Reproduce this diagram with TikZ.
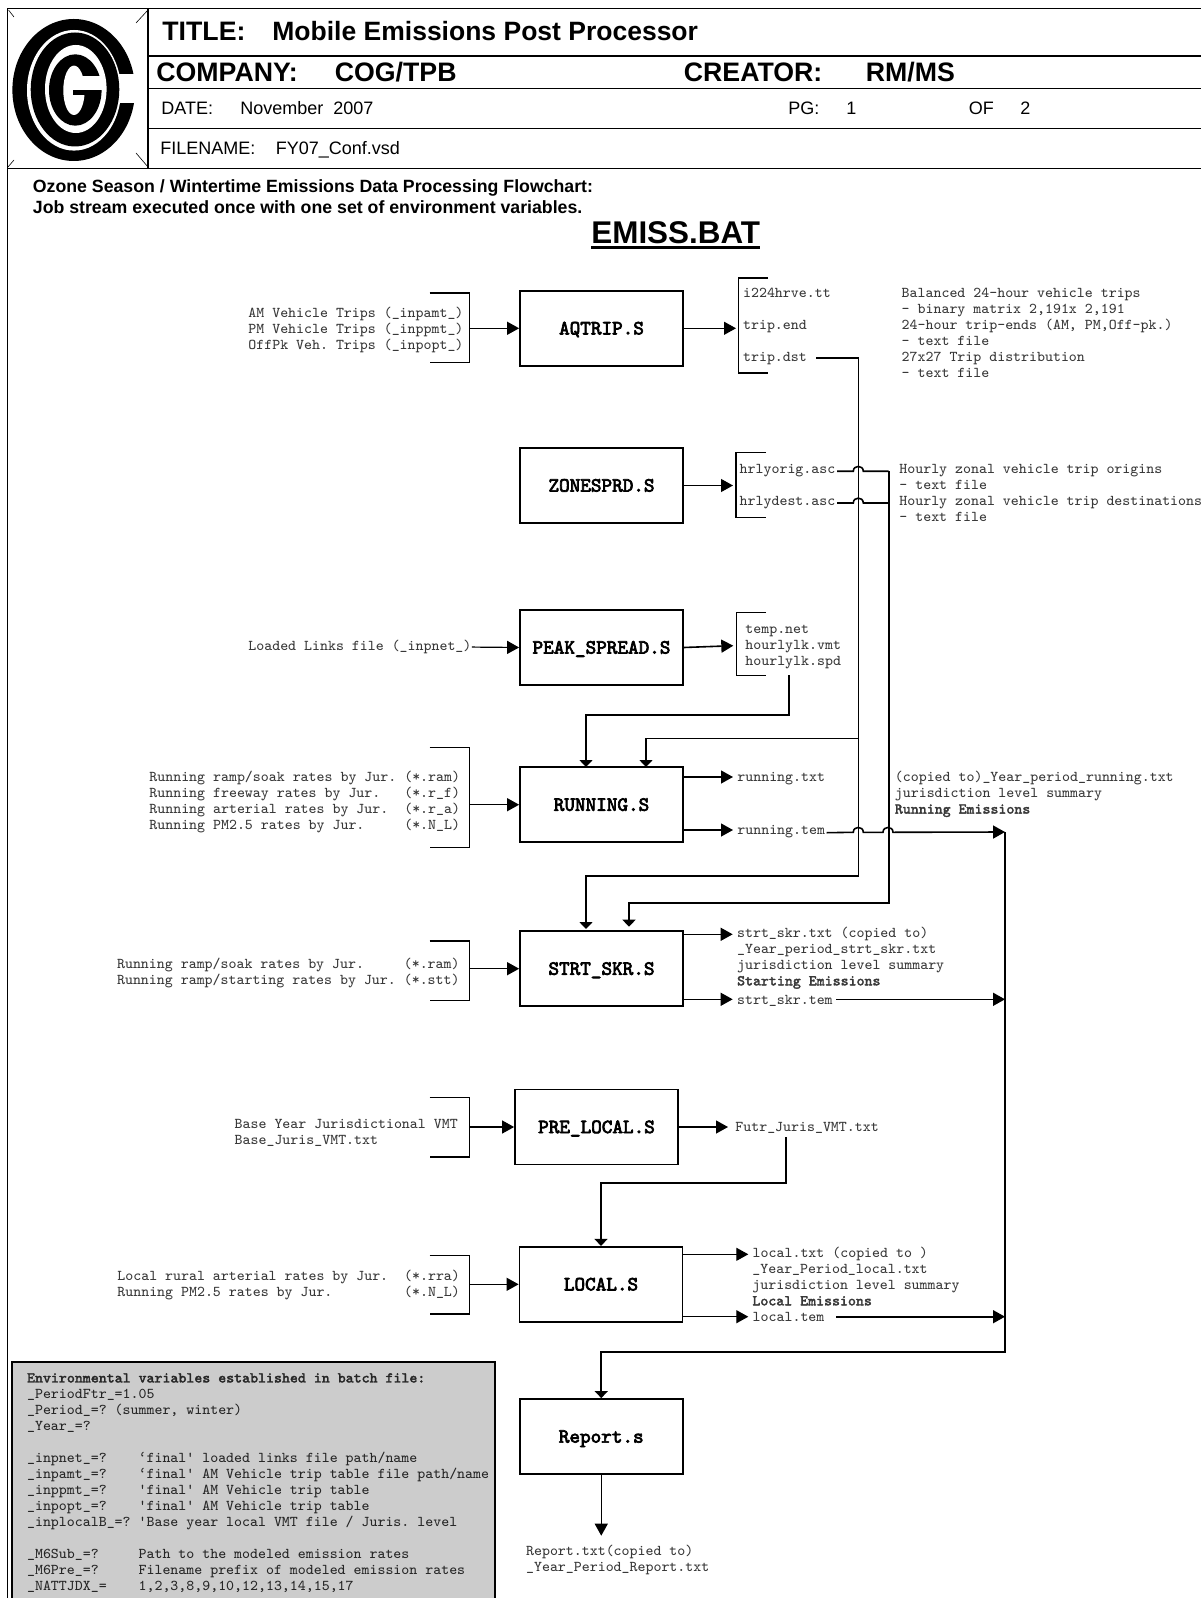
\documentclass[tikz,border=0pt]{standalone}
\usepackage{fontspec}
\setsansfont{Liberation Sans}
\setmonofont{Latin Modern Mono}[BoldFont={Latin Modern Mono},BoldFeatures={FakeBold=2}]
\newfontfamily\boxfont{Latin Modern Mono}[FakeBold=3.5]
\usetikzlibrary{arrows.meta}
\tikzset{
  procbox/.style={draw,line width=0.9pt,minimum width=81.5pt,minimum height=37.5pt,inner sep=0pt,
    text height=8.5pt,text depth=2.4pt,
    font=\boxfont\fontsize{10.1}{12}\selectfont},
  txt/.style={inner sep=0pt,align=left,anchor=north west,yshift=-1pt,text=black!78,
    font=\ttfamily\fontsize{7.5}{8}\selectfont\frenchspacing},
  outfile/.style={inner sep=0pt,anchor=west,inner xsep=2pt,text=black!78,
    text height=6.8pt,text depth=2pt,
    font=\ttfamily\fontsize{7.5}{8}\selectfont\frenchspacing},
  headbig/.style={inner sep=0pt,anchor=base west,font=\sffamily\bfseries\fontsize{13.35}{16}\selectfont},
  headsmall/.style={inner sep=0pt,anchor=base west,font=\sffamily\fontsize{9}{11}\selectfont},
  subhead/.style={inner sep=0pt,anchor=base west,font=\sffamily\bfseries\fontsize{8.86}{11}\selectfont},
  frameline/.style={line width=0.7pt},
  bracket/.style={line width=0.6pt},
  thinarrow/.style={line width=0.6pt,-{Triangle[length=6pt,width=6.5pt]}},
  flow/.style={line width=0.8pt},
  flowarrow/.style={line width=0.8pt,-{Triangle[length=6pt,width=6.5pt]}},
  flowdown/.style={line width=0.8pt,-{Triangle[length=3.5pt,width=6.5pt]}}
}

\begin{document}
\begin{tikzpicture}[x=0.5pt,y=-0.5pt]
    \useasboundingbox (0,0) rectangle (1201,1598);

    % title block
    \draw[frameline] (7.5,1598) -- (7.5,8.5) -- (1201,8.5);
    \draw[frameline] (7.5,168.3) -- (1201,168.3);
    \draw[frameline] (148,8.5) -- (148,168.3);
    \draw[frameline] (148,56) -- (1201,56);
    \draw[frameline] (148,88.3) -- (1201,88.3);
    \draw[frameline] (148,128.3) -- (1201,128.3);

    % corner ticks of the logo
    \draw[line width=0.3pt] (8.5,10) -- (14,17);
    \draw[line width=0.3pt] (148,10) -- (136,23);
    \draw[line width=0.3pt] (8,167) -- (14,160);
    \draw[line width=0.3pt] (148,167) -- (136,153);

    % logo
    \fill[black] (73.7,90) ellipse [x radius=30.65pt,y radius=35.5pt];
    \fill[white] (100,74) rectangle (140,102.7);
    \fill[white] (74,90.3) ellipse [x radius=23.5pt,y radius=30.15pt];
    \fill[black] (75,89.5) ellipse [x radius=22.15pt,y radius=28.5pt];
    \fill[white] (75.8,89) ellipse [x radius=15.4pt,y radius=22pt];
    \fill[black] (75.3,90) ellipse [x radius=13.15pt,y radius=17.85pt];
    \fill[white] (74,90.3) ellipse [x radius=5.35pt,y radius=12.35pt];
    \fill[white] (78,76) rectangle (103,90);
    \fill[black] (73.3,90) rectangle (100,95);

    % header texts
    \node[headbig] (titlelab) at (162,40.7) {TITLE:};
    \node[headbig,font=\sffamily\bfseries\fontsize{13.25}{16}\selectfont] (titleval) at (272,40.7) {Mobile Emissions Post Processor};
    \node[headbig] (companylab) at (156,81.5) {COMPANY:};
    \node[headbig] (companyval) at (334.5,81.5) {COG/TPB};
    \node[headbig] (creatorlab) at (683.5,81.5) {CREATOR:};
    \node[headbig] (creatorval) at (865.5,81.5) {RM/MS};
    \node[headsmall] (datelab) at (161,114.3) {DATE:};
    \node[headsmall] (dateval) at (240,114.3) {November~~2007};
    \node[headsmall] (pglab) at (788,114.3) {PG:};
    \node[headsmall] (pgval) at (846,114.3) {1};
    \node[headsmall] (oflab) at (968.5,114.3) {OF};
    \node[headsmall] (ofval) at (1020,114.3) {2};
    \node[headsmall] (filelab) at (160,154.5) {FILENAME:};
    \node[headsmall] (fileval) at (275.5,154.5) {FY07\_Conf.vsd};
    \node[subhead] (subone) at (32.5,193) {Ozone Season / Wintertime Emissions Data Processing Flowchart:};
    \node[subhead] (subtwo) at (32.5,213.8) {Job stream executed once with one set of environment variables.};
    \node[inner sep=0pt,anchor=base west,font=\sffamily\bfseries\fontsize{15.7}{18}\selectfont] (emiss) at (591,243.5) {EMISS.BAT};
    \draw[line width=1.5pt] ([yshift=-2.2pt]emiss.base west) -- ([yshift=-2.2pt]emiss.base east);

    % processing boxes
    \node[procbox] (aqtrip) at (601.5,328.3) {AQTRIP.S};
    \node[procbox] (zonesprd) at (601.5,485.5) {ZONESPRD.S};
    \node[procbox] (peakspread) at (601.5,647.5) {PEAK\_SPREAD.S};
    \node[procbox] (runningbox) at (601.5,804.7) {RUNNING.S};
    \node[procbox] (strtskr) at (601.5,968.7) {STRT\_SKR.S};
    \node[procbox] (prelocal) at (596.5,1127) {PRE\_LOCAL.S};
    \node[procbox] (localbox) at (601,1284.3) {LOCAL.S};
    \node[procbox] (reportbox) at (601.25,1436.5) {Report.s};

    % input lists
    \node[txt] (aqinput) at (248,305) {AM Vehicle Trips (\_inpamt\_)\\PM Vehicle Trips (\_inppmt\_)\\OffPk Veh. Trips (\_inpopt\_)};
    \node[txt] (loadedlinks) at (248,637.8) {Loaded Links file (\_inpnet\_)};
    \node[txt] (runinput) at (149,768.8) {Running ramp/soak rates by Jur. (*.ram)\\Running freeway rates by Jur.~~~(*.r\_f)\\Running arterial rates by Jur.~~(*.r\_a)\\Running PM2.5 rates by Jur.~~~~~(*.N\_L)};
    \node[txt] (strtinput) at (116.7,956) {Running ramp/soak rates by Jur.~~~~~(*.ram)\\Running ramp/starting rates by Jur. (*.stt)};
    \node[txt] (preinput) at (234.3,1117) {Base Year Jurisdictional VMT\\Base\_Juris\_VMT.txt};
    \node[txt] (localinput) at (117,1268) {Local rural arterial rates by Jur.~~(*.rra)\\Running PM2.5 rates by Jur.~~~~~~~~~(*.N\_L)};

    % input brackets
    \draw[bracket] (429.7,293) -- (469.3,293) -- (469.3,362.7) -- (429.7,362.7);
    \draw[bracket] (429.7,747.3) -- (469.3,747.3) -- (469.3,847.3) -- (429.7,847.3);
    \draw[bracket] (429.7,941) -- (469.3,941) -- (469.3,1000.7) -- (429.7,1000.7);
    \draw[bracket] (429.7,1097.3) -- (469.3,1097.3) -- (469.3,1157) -- (429.7,1157);
    \draw[bracket] (429.7,1255.7) -- (469.3,1255.7) -- (469.3,1314) -- (429.7,1314);

    % input arrows
    \coordinate (aqin) at (469.3,328.3);
    \coordinate (runin) at (469.3,804.7);
    \coordinate (strtin) at (469.3,968.7);
    \coordinate (prein) at (469.3,1127);
    \coordinate (localin) at (469.3,1284.3);
    \draw[thinarrow] (aqin) -- (aqtrip.west);
    \draw[thinarrow] (loadedlinks.east) -- (peakspread.west);
    \draw[thinarrow] (runin) -- (runningbox.west);
    \draw[thinarrow] (strtin) -- (strtskr.west);
    \draw[thinarrow] (prein) -- (prelocal.west);
    \draw[thinarrow] (localin) -- (localbox.west);

    % output lists
    \node[txt] (aqoutput) at (742.7,285.5) {i224hrve.tt\\[8pt]trip.end\\[8pt]trip.dst};
    \node[txt] (aqnote) at (901.3,285.5) {Balanced 24-hour vehicle trips\\- binary matrix 2,191x 2,191\\24-hour trip-ends (AM, PM,Off-pk.)\\- text file\\27x27 Trip distribution\\- text file};
    \node[txt] (zoneoutput) at (739.3,461.8) {hrlyorig.asc\\[8pt]hrlydest.asc};
    \node[txt] (zonenote) at (899,461.8) {Hourly zonal vehicle trip origins\\- text file\\Hourly zonal vehicle trip destinations\\- text file};
    \node[txt] (peakoutput) at (745,623.1) {temp.net\\hourlylk.vmt\\hourlylk.spd};
    \node[outfile] (runningtxt) at (733,777) {running.txt};
    \node[outfile] (runningtem) at (733,830) {running.tem};
    \node[txt] (runnote) at (894.5,768.8) {(copied to)\_Year\_period\_running.txt\\jurisdiction level summary\\\textbf{Running Emissions}};
    \node[outfile,text height=5.3pt] (strttxt) at (732.7,934.3) {strt\_skr.txt (copied to)};
    \node[txt] (strtnote) at (736.7,941.8) {\_Year\_period\_strt\_skr.txt\\jurisdiction level summary\\\textbf{Starting Emissions}};
    \node[outfile] (strttem) at (732.7,999.3) {strt\_skr.tem};
    \node[txt] (futrtxt) at (735,1119.8) {Futr\_Juris\_VMT.txt};
    \node[outfile,text height=5.3pt] (localtxt) at (748.3,1254.3) {local.txt (copied to )};
    \node[txt] (localnote) at (752,1261.8) {\_Year\_Period\_local.txt\\jurisdiction level summary\\\textbf{Local Emissions}};
    \node[outfile] (localtem) at (748.3,1316.7) {local.tem};
    \node[txt] (reporttxt) at (525.7,1542.8) {Report.txt(copied to)\\\_Year\_Period\_Report.txt};

    % output brackets
    \draw[bracket] (768,278) -- (738.7,278) -- (738.7,373) -- (768,373);
    \draw[bracket] (766,452.7) -- (736,452.7) -- (736,517.7) -- (766,517.7);
    \draw[bracket] (766,612.7) -- (736.3,612.7) -- (736.3,675.3) -- (766,675.3);

    % output arrows
    \coordinate (aqout) at (736,328.3);
    \coordinate (zoneout) at (733,485.5);
    \coordinate (peakout) at (733.3,645.7);
    \coordinate (preout) at (728,1127);
    \coordinate (reportout) at (601.25,1535.7);
    \draw[thinarrow] (aqtrip.east) -- (aqout);
    \draw[thinarrow] (zonesprd.east) -- (zoneout);
    \draw[flowarrow] (peakspread.east) -- (peakout);
    \draw[thinarrow] (runningbox.east |- runningtxt.west) -- (runningtxt.west);
    \draw[thinarrow] (runningbox.east |- runningtem.west) -- (runningtem.west);
    \draw[thinarrow] (strtskr.east |- strttxt.west) -- (strttxt.west);
    \draw[thinarrow] (strtskr.east |- strttem.west) -- (strttem.west);
    \draw[thinarrow] (prelocal.east) -- (preout);
    \draw[thinarrow] (localbox.east |- localtxt.west) -- (localtxt.west);
    \draw[thinarrow] (localbox.east |- localtem.west) -- (localtem.west);
    \draw[thinarrow] (reportbox.south) -- (reportout);

    % feeds going down the sheet
    \coordinate (tripstart) at (816.3,358);
    \coordinate (runfeed) at (646,767);
    \coordinate (strtfeed) at (586,929);
    \coordinate (strtfeedtwo) at (629,926.7);
    \coordinate (runfeedtwo) at (586,767);
    \coordinate (peakstart) at (788.7,675.3);
    \coordinate (futrstart) at (785.7,1137.3);
    \draw[flowdown] (tripstart) -- (858.3,358) -- (858.3,876) -- (586,876) -- (strtfeed);
    \draw[flowdown] (858.3,715) -- (858.3,738.3) -- (646,738.3) -- (runfeed);
    \draw[flowdown] (peakstart) -- (788.7,715) -- (586,715) -- (runfeedtwo);
    \draw[flowdown] (futrstart) -- (785.7,1183) -- (localbox.north |- 0,1183) -- (localbox.north);

    % lines hopping over the feeds
    \coordinate (origstart) at (837,471.3);
    \coordinate (deststart) at (837,503);
    \coordinate (runtemstart) at (826.7,832.7);
    \draw[flow] (origstart) -- (853.3,471.3) .. controls (853.3,464.8) and (863.3,464.8) .. (863.3,471.3) -- (888.7,471.3);
    \draw[flow] (deststart) -- (853.3,503) .. controls (853.3,496.5) and (863.3,496.5) .. (863.3,503) -- (888.7,503);
    \draw[flowdown] (888.7,471.3) -- (888.7,902.7) -- (629,902.7) -- (strtfeedtwo);

    % emissions collected on the right
    \coordinate (collecttop) at (1005,832);
    \coordinate (collectbot) at (1005,1351.7);
    \coordinate (strttemstart) at (836,999.3);
    \coordinate (strtjoin) at (1005,999.3);
    \coordinate (localtemstart) at (836,1316.7);
    \coordinate (localjoin) at (1005,1316.7);
    \draw[flowarrow] (runtemstart) -- (853.3,832.3) .. controls (853.3,825.8) and (863.3,825.8) .. (863.3,832.3) -- (883,832.3) .. controls (883,825.8) and (893,825.8) .. (893,832.3) -- (collecttop);
    \draw[flowarrow] (strttemstart) -- (strtjoin);
    \draw[flowarrow] (localtemstart) -- (localjoin);
    \draw[flowdown] (collecttop) -- (collectbot) -- (reportbox.north |- collectbot) -- (reportbox.north);

    % variables panel
    \draw[fill=black!20,line width=0.9pt] (12.3,1361.7) rectangle (494.7,1602);
    \node[txt,text=black!85] (varlist) at (26.7,1370.8) {\textbf{Environmental variables established in batch file:}\\
      \_PeriodFtr\_=1.05\\
      \_Period\_=? (summer, winter)\\
      \_Year\_=?\\[8pt]
      \_inpnet\_=?~~~~\textquoteleft final\textquotesingle{} loaded links file path/name\\
      \_inpamt\_=?~~~~\textquoteleft final\textquotesingle{} AM Vehicle trip table file path/name\\
      \_inppmt\_=?~~~~\textquotesingle final\textquotesingle{} AM Vehicle trip table\\
      \_inpopt\_=?~~~~\textquotesingle final\textquotesingle{} AM Vehicle trip table\\
      \_inplocalB\_=? \textquotesingle Base year local VMT file / Juris. level\\[8pt]
      \_M6Sub\_=?~~~~~Path to the modeled emission rates\\
      \_M6Pre\_=?~~~~~Filename prefix of modeled emission rates\\
      \_NATTJDX\_=~~~~1,2,3,8,9,10,12,13,14,15,17};
\end{tikzpicture}
\end{document}
